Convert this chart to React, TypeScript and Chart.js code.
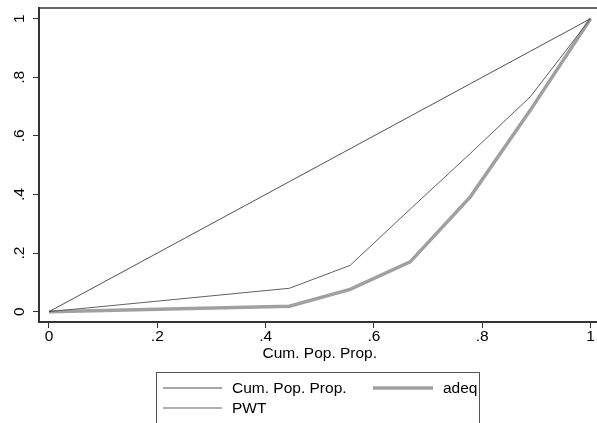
import React, { useEffect, useRef } from "react";
import { Chart, registerables } from "chart.js";

Chart.register(...registerables);

const xValues = [0, 0.444, 0.556, 0.667, 0.778, 0.889, 1];
const equalityValues = [0, 0.444, 0.556, 0.667, 0.778, 0.889, 1];
const pwtValues = [0, 0.08, 0.158, 0.35, 0.54, 0.734, 1];
const adeqValues = [0, 0.019, 0.076, 0.17, 0.392, 0.688, 1];

const xTicks = [0, 0.2, 0.4, 0.6, 0.8, 1];
const xTickLabels = ["0", ".2", ".4", ".6", ".8", "1"];
const yTicks = [0, 0.2, 0.4, 0.6, 0.8, 1];
const yTickLabels = ["0", ".2", ".4", ".6", ".8", "1"];

const xTitle = "Cum. Pop. Prop.";
const seriesLabels = ["Cum. Pop. Prop.", "PWT", "adeq"];
const seriesColors = ["#505050", "#606060", "#a0a0a0"];
const seriesWidths = [1, 1, 3.5];

const FONT = '15.5px "Liberation Sans", Arial, sans-serif';
const AXIS = "#333333";

const toPoints = (ys: number[]) => xValues.map((x, i) => ({ x, y: ys[i] }));

const decorPlugin = {
  id: "decor",
  afterDraw(chart: any) {
    const ctx = chart.ctx as CanvasRenderingContext2D;
    const xs = chart.scales.x;
    const ys = chart.scales.y;
    const area = chart.chartArea;
    ctx.save();
    // top frame line
    ctx.strokeStyle = AXIS;
    ctx.lineWidth = 1.5;
    ctx.beginPath();
    ctx.moveTo(area.left, area.top);
    ctx.lineTo(chart.width, area.top);
    ctx.stroke();

    ctx.fillStyle = "#000";
    ctx.font = FONT;
    // x tick labels
    ctx.textAlign = "center";
    ctx.textBaseline = "middle";
    xTicks.forEach((v, i) => {
      ctx.fillText(xTickLabels[i], xs.getPixelForValue(v), 337);
    });
    ctx.fillText(xTitle, xs.getPixelForValue(0.5), 353.5);
    // y tick labels rotated
    yTicks.forEach((v, i) => {
      ctx.save();
      ctx.translate(20, ys.getPixelForValue(v));
      ctx.rotate(-Math.PI / 2);
      ctx.textAlign = "center";
      ctx.textBaseline = "middle";
      ctx.fillText(yTickLabels[i], 0, 0);
      ctx.restore();
    });

    // legend
    ctx.strokeStyle = "#555555";
    ctx.lineWidth = 1;
    ctx.strokeRect(156.5, 372.5, 323, 80);
    const items = chart.data.datasets.map((d: any) => ({
      label: d.label,
      color: d.borderColor,
      width: d.borderWidth,
    }));
    const slots = [
      { x0: 163, x1: 222, tx: 232, y: 388 },
      { x0: 163, x1: 222, tx: 232, y: 408 },
      { x0: 373, x1: 433, tx: 443, y: 388 },
    ];
    items.forEach((it: any, i: number) => {
      const s = slots[i];
      ctx.strokeStyle = it.color;
      ctx.lineWidth = it.width;
      ctx.beginPath();
      ctx.moveTo(s.x0, s.y);
      ctx.lineTo(s.x1, s.y);
      ctx.stroke();
      ctx.fillStyle = "#000";
      ctx.textAlign = "left";
      ctx.textBaseline = "middle";
      ctx.fillText(it.label, s.tx, s.y + 0.5);
    });
    ctx.restore();
  },
};

export default function App() {
  const ref = useRef<HTMLCanvasElement | null>(null);
  useEffect(() => {
    if (!ref.current) return;
    const chart = new Chart(ref.current, {
      type: "line",
      data: {
        datasets: [0, 1, 2].map((i) => ({
          label: seriesLabels[i],
          data: toPoints([equalityValues, pwtValues, adeqValues][i]),
          borderColor: seriesColors[i],
          backgroundColor: seriesColors[i],
          borderWidth: seriesWidths[i],
          pointRadius: 0,
          fill: false,
          tension: 0,
        })),
      },
      options: {
        animation: false,
        responsive: false,
        devicePixelRatio: 1,
        layout: { padding: { top: 8, right: 8, left: 0, bottom: 0 } },
        plugins: { legend: { display: false }, tooltip: { enabled: false } },
        scales: {
          x: {
            type: "linear",
            min: -0.018467,
            max: 1.0397,
            afterBuildTicks: (s: any) => {
              s.ticks = xTicks.map((v) => ({ value: v }));
            },
            afterFit: (s: any) => {
              s.height = 101;
            },
            ticks: { display: false },
            grid: {
              drawOnChartArea: false,
              drawTicks: true,
              tickLength: 6,
              color: AXIS,
              lineWidth: 1,
            },
            border: { display: true, color: AXIS, width: 2 },
          },
          y: {
            type: "linear",
            min: -0.03515,
            max: 1.0365,
            afterBuildTicks: (s: any) => {
              s.ticks = yTicks.map((v) => ({ value: v }));
            },
            afterFit: (s: any) => {
              s.width = 39;
            },
            ticks: { display: false },
            grid: {
              drawOnChartArea: false,
              drawTicks: true,
              tickLength: 6,
              color: AXIS,
              lineWidth: 1,
            },
            border: { display: true, color: AXIS, width: 2 },
          },
        },
      },
      plugins: [decorPlugin],
    });
    return () => chart.destroy();
  }, []);
  return (
    <div
      style={{
        position: "fixed",
        left: 0,
        top: 0,
        width: 597,
        height: 423,
        overflow: "hidden",
        background: "#fff",
      }}
    >
      <canvas ref={ref} width={620} height={423} style={{ display: "block", width: 620, height: 423 }} />
    </div>
  );
}
